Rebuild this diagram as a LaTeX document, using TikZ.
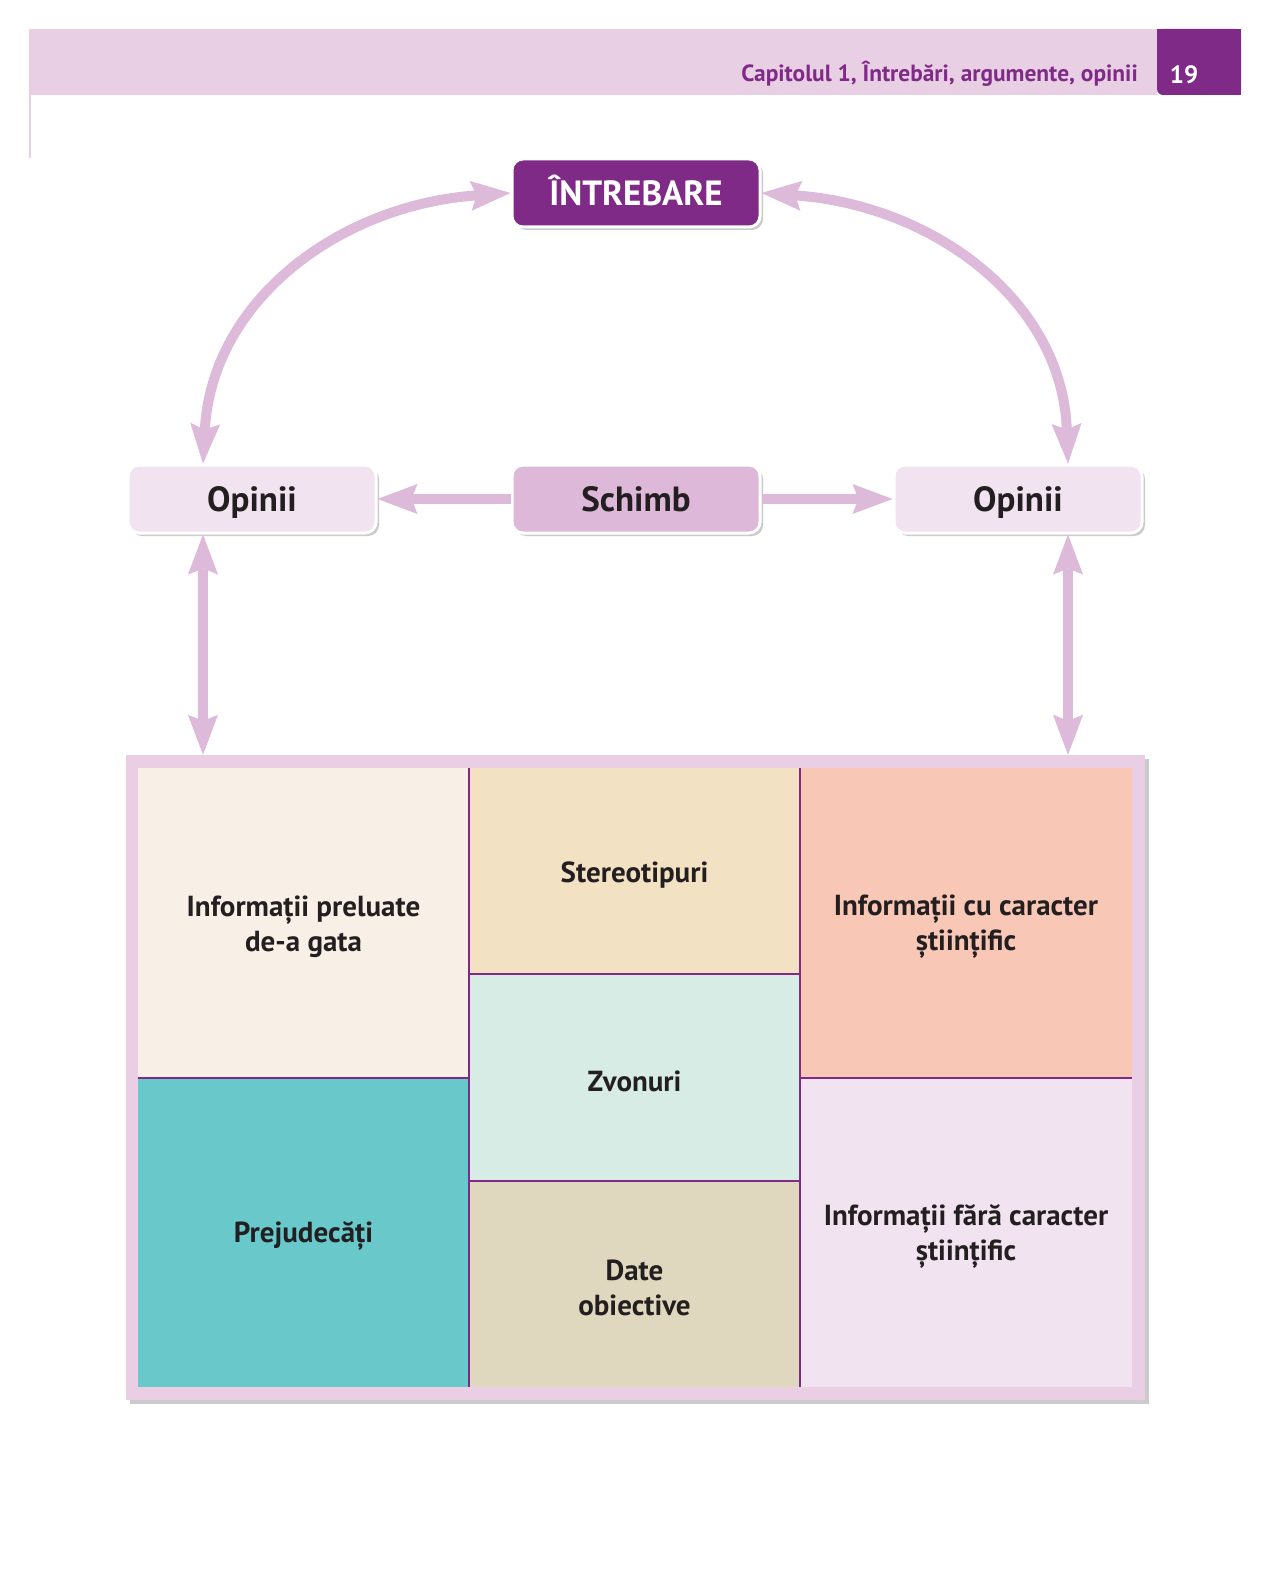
\documentclass[tikz,border=0pt]{standalone}
\usepackage{fontspec}
\setmainfont{PT Sans}
\usetikzlibrary{arrows.meta,shadows}
\definecolor{purp}{RGB}{127,42,134}
\definecolor{arrc}{RGB}{221,185,218}
\definecolor{band}{RGB}{233,207,227}
\definecolor{opfill}{RGB}{242,227,240}
\definecolor{schfill}{RGB}{221,184,216}
\definecolor{framec}{RGB}{233,206,228}
\definecolor{cA}{RGB}{248,239,230}
\definecolor{cB}{RGB}{242,225,195}
\definecolor{cC}{RGB}{248,199,182}
\definecolor{cD}{RGB}{105,201,202}
\definecolor{cE}{RGB}{214,236,229}
\definecolor{cF}{RGB}{224,216,190}
\definecolor{cG}{RGB}{242,227,241}
\definecolor{ink}{RGB}{35,31,32}
\tikzset{
  boxnode/.style={rounded corners=11pt, draw=white, line width=3pt,
    minimum width=248pt, minimum height=68pt, inner sep=0pt,
    text height=24.5pt, text depth=0pt,
    font=\fontsize{35}{40}\selectfont\bfseries, text=ink,
    drop shadow={shadow xshift=3pt, shadow yshift=-3pt, fill=black!40, opacity=0.5}},
  tipA/.tip={Stealth[length=40pt,width=30pt,inset=6pt,line width=0pt]},
  arrtwo/.style={draw=arrc, line width=10pt, tipA-tipA},
  arrone/.style={draw=arrc, line width=10pt, -tipA},
  cell/.style={draw=none, inner sep=0pt},
  celltext/.style={inner sep=0pt, align=center, text=ink,
    font=\fontsize{29}{35}\selectfont\bfseries},
  divider/.style={draw=purp, line width=2pt},
}
\begin{document}
\begin{tikzpicture}[x=1pt,y=-1pt]
\useasboundingbox (0,0) rectangle (1270,1594);
\fill[white] (0,0) rectangle (1270,1594);
% header
\fill[band] (29,29) rectangle (1157,95);
\fill[purp, rounded corners=6pt] (1157,29) rectangle (1241,95);
\fill[purp] (1180,29) rectangle (1241,95);
\fill[purp] (1157,29) rectangle (1241,60);
\draw[band, line width=2pt] (30,95) -- (30,158);
\node[anchor=base east, text=purp, inner sep=0pt, font=\fontsize{23.4}{26}\selectfont\bfseries] (hd) at (1138,82) {Capitolul 1, Întrebări, argumente, opinii};
\node[anchor=base, text=white, inner sep=0pt, font=\fontsize{25}{28}\selectfont\bfseries] (pg) at (1184,84) {19};
% frame and cells
\node[draw=none, fill=framec, minimum width=1019pt, minimum height=645pt, inner sep=0pt,
  drop shadow={shadow xshift=4pt, shadow yshift=-4pt, fill=black!40, opacity=0.5}] (fr) at (635.5,1077.5) {};
\node[cell, fill=cA, minimum width=331pt, minimum height=310pt] (ipg) at (303.5,923) {};
\node[cell, fill=cD, minimum width=331pt, minimum height=309pt] (prj) at (303.5,1232.5) {};
\node[cell, fill=cB, minimum width=331pt, minimum height=206pt] (ste) at (634.5,871) {};
\node[cell, fill=cE, minimum width=331pt, minimum height=207pt] (zvo) at (634.5,1077.5) {};
\node[cell, fill=cF, minimum width=331pt, minimum height=206pt] (dat) at (634.5,1284) {};
\node[cell, fill=cC, minimum width=332pt, minimum height=310pt] (ics) at (966,923) {};
\node[cell, fill=cG, minimum width=332pt, minimum height=309pt] (ifs) at (966,1232.5) {};
\node[celltext] (tipg) at ([yshift=-4pt]ipg.center) {Informații preluate\\de-a gata};
\node[celltext] (tprj) at ([yshift=-4pt]prj.center) {Prejudecăți};
\node[celltext] (tste) at ([yshift=-4pt]ste.center) {Stereotipuri};
\node[celltext] (tzvo) at ([yshift=-4pt]zvo.center) {Zvonuri};
\node[celltext] (tdat) at ([yshift=-4pt]dat.center) {Date\\obiective};
\node[celltext] (tics) at ([yshift=-4pt]ics.center) {Informații cu caracter\\științific};
\node[celltext] (tifs) at ([yshift=-4pt]ifs.center) {Informații fără caracter\\științific};
\draw[divider] (ipg.north east) -- (prj.south east);
\draw[divider] (ics.north west) -- (ifs.south west);
\draw[divider] (ipg.south west) -- (ipg.south east);
\draw[divider] (ics.south west) -- (ics.south east);
\draw[divider] (ste.south west) -- (ste.south east);
\draw[divider] (zvo.south west) -- (zvo.south east);
% top nodes
\node[boxnode, fill=purp, text=white] (q) at (636,193) {ÎNTREBARE};
\node[boxnode, fill=schfill] (s) at (636,499) {Schimb};
\node[boxnode, fill=opfill] (oL) at (252,499) {Opinii};
\node[boxnode, fill=opfill] (oR) at (1018,499) {Opinii};
\coordinate (oLt) at ([xshift=-49pt]oL.north);
\coordinate (oRt) at ([xshift=50pt]oR.north);
\coordinate (oLb) at ([xshift=-49pt]oL.south);
\coordinate (oRb) at ([xshift=50pt]oR.south);
\coordinate (fL) at (oLb |- fr.north);
\coordinate (fR) at (oRb |- fr.north);
% connectors
\draw[arrtwo] (q.west) .. controls (340,205) and (212,300) .. (oLt);
\draw[arrtwo] (q.east) .. controls (932,205) and (1062,300) .. (oRt);
\draw[arrone] (s.west) -- (oL.east);
\draw[arrone] (s.east) -- (oR.west);
\draw[arrtwo] (oLb) -- (fL);
\draw[arrtwo] (oRb) -- (fR);
\end{tikzpicture}
\end{document}
